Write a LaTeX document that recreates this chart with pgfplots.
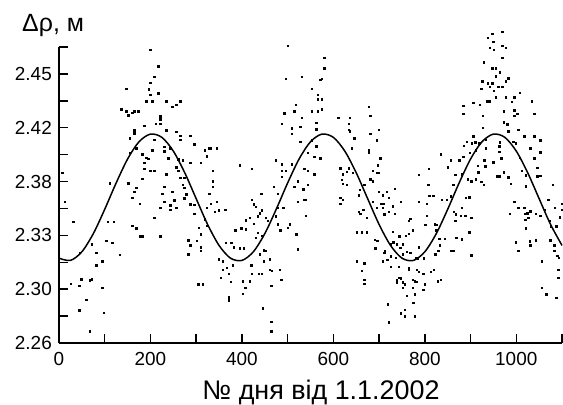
\documentclass[border=0pt]{standalone}
\usepackage{pgfplots}
\pgfplotsset{compat=1.18}
\usepackage{pgfplotstable}
\usepackage{fontspec}
\setmainfont{Liberation Sans}

\pgfplotstableread{
x y
0 2.3199
25 2.3183
50 2.3244
75 2.3372
100 2.3544
125 2.3730
150 2.3899
175 2.4021
200 2.4075
225 2.4052
250 2.3955
275 2.3802
300 2.3619
325 2.3437
350 2.3289
375 2.3199
400 2.3183
425 2.3244
450 2.3372
475 2.3544
500 2.3730
525 2.3899
550 2.4021
575 2.4075
600 2.4052
625 2.3955
650 2.3802
675 2.3619
700 2.3437
725 2.3289
750 2.3199
775 2.3183
800 2.3244
825 2.3372
850 2.3544
875 2.3730
900 2.3899
925 2.4021
950 2.4075
975 2.4052
1000 2.3955
1025 2.3802
1050 2.3619
1075 2.3437
1100 2.3289
}\curvedata

\pgfplotstableread{
x y
199 2.4670
217 2.4556
208 2.4481
199 2.4439
196 2.4392
147 2.4396
217 2.4363
199 2.4352
191 2.4309
204 2.4309
234 2.4309
248 2.4267
256 2.4281
265 2.4309
136 2.4250
147 2.4236
151 2.4208
160 2.4227
164 2.4236
173 2.4236
221 2.4203
221 2.4180
212 2.4149
221 2.4149
186 2.4135
164 2.4102
164 2.4081
234 2.4102
256 2.4093
265 2.4062
265 2.4034
287 2.4062
155 2.4046
208 2.4034
296 2.4003
230 2.3987
243 2.3975
169 2.3975
155 2.3944
204 2.3961
230 2.3956
182 2.3933
191 2.3909
195 2.3902
239 2.3904
261 2.3897
270 2.3890
186 2.3874
287 2.3874
256 2.3843
186 2.3831
199 2.3815
208 2.3815
234 2.3791
261 2.3815
7 2.3801
182 2.3761
265 2.3768
274 2.3768
169 2.3697
111 2.3730
151 2.3730
230 2.3702
270 2.3716
164 2.3669
248 2.3669
274 2.3697
226 2.3655
278 2.3650
160 2.3627
274 2.3622
230 2.3598
252 2.3608
13 2.3598
177 2.3584
221 2.3556
243 2.3572
256 2.3556
287 2.3580
296 2.3575
243 2.3542
296 2.3514
208 2.3485
31 2.3455
107 2.3455
120 2.3455
160 2.3427
169 2.3410
177 2.3354
182 2.3354
221 2.3354
283 2.3325
287 2.3292
103 2.3321
116 2.3309
283 2.3226
72 2.3297
81 2.3238
133 2.3224
45 2.3238
81 2.3151
94 2.3179
26 2.3019
48 2.3050
44 2.3005
67 2.3043
72 2.3050
94 2.2991
59 2.2904
44 2.2831
98 2.2814
67 2.2685
500 2.4698
580 2.4615
580 2.4540
496 2.4467
531 2.4481
571 2.4458
575 2.4467
553 2.4396
566 2.4352
566 2.4321
575 2.4321
518 2.4281
492 2.4222
514 2.4236
553 2.4236
566 2.4236
575 2.4250
531 2.4192
562 2.4156
487 2.4149
509 2.4116
527 2.4126
562 2.4109
509 2.4079
527 2.4022
553 2.4032
562 2.3989
544 2.3944
571 2.3904
558 2.3916
474 2.3890
395 2.3857
421 2.3831
487 2.3862
509 2.3862
487 2.3815
496 2.3815
536 2.3831
544 2.3815
558 2.3791
487 2.3773
470 2.3702
522 2.3744
514 2.3702
534 2.3685
544 2.3716
336 2.3815
336 2.3744
336 2.3702
328 2.3655
319 2.3961
328 2.3975
332 2.3975
345 2.3975
323 2.3919
310 2.3874
345 2.3598
332 2.3584
349 2.3537
363 2.3542
341 2.3528
323 2.3556
319 2.3474
323 2.3427
306 2.3415
310 2.3368
301 2.3321
310 2.3278
310 2.3250
442 2.3655
421 2.3612
426 2.3580
430 2.3561
443 2.3537
439 2.3518
434 2.3495
417 2.3485
408 2.3467
426 2.3443
452 2.3485
456 2.3462
398 2.3410
408 2.3403
385 2.3396
434 2.3379
443 2.3356
430 2.3344
395 2.3269
404 2.3269
377 2.3309
382 2.3278
364 2.3309
448 2.3255
452 2.3250
439 2.3226
461 2.3191
448 2.3179
349 2.3191
358 2.3179
380 2.3151
367 2.3132
358 2.3118
371 2.3090
354 2.3062
376 2.3033
402 2.3038
417 2.3038
420 2.3151
421 2.3090
443 2.3090
437 2.3090
461 2.3118
465 2.3109
483 2.3118
486 2.3048
464 2.3003
407 2.2991
402 2.2949
371 2.2925
371 2.2902
446 2.2845
464 2.2751
464 2.2685
478 2.3655
478 2.3438
484 2.3396
505 2.3438
522 2.3598
536 2.3612
540 2.3612
540 2.3500
519 2.3368
522 2.3262
304 2.3015
314 2.3015
490 2.3556
500 2.3415
474 2.3497
478 2.3556
677 2.4267
680 2.4206
611 2.4192
636 2.4192
633 2.4149
633 2.4107
636 2.4097
699 2.4107
680 2.4079
646 2.4046
695 2.4032
640 2.3975
677 2.3961
677 2.3947
835 2.3933
702 2.3904
857 2.3890
875 2.3890
697 2.3857
615 2.3834
633 2.3834
629 2.3810
642 2.3801
620 2.3791
850 2.3843
809 2.3829
686 2.3815
695 2.3801
699 2.3801
618 2.3754
620 2.3725
629 2.3716
787 2.3787
866 2.3787
680 2.3758
686 2.3744
658 2.3683
667 2.3716
734 2.3688
807 2.3716
862 2.3716
699 2.3669
717 2.3669
655 2.3645
615 2.3627
620 2.3612
615 2.3584
708 2.3645
721 2.3627
810 2.3641
818 2.3641
857 2.3636
686 2.3598
703 2.3584
709 2.3584
747 2.3598
730 2.3565
787 2.3598
804 2.3584
837 2.3612
848 2.3612
665 2.3542
655 2.3528
659 2.3514
695 2.3556
708 2.3556
711 2.3509
721 2.3528
734 2.3514
804 2.3499
863 2.3528
867 2.3509
673 2.3485
768 2.3476
765 2.3462
866 2.3462
801 2.3434
822 2.3438
826 2.3434
651 2.3382
662 2.3382
673 2.3382
730 2.3386
758 2.3358
765 2.3372
774 2.3396
744 2.3354
690 2.3330
696 2.3321
825 2.3396
831 2.3335
843 2.3335
869 2.3344
725 2.3297
731 2.3311
738 2.3297
752 2.3297
746 2.3274
832 2.3292
692 2.3269
712 2.3250
711 2.3236
787 2.3278
829 2.3250
857 2.3250
862 2.3250
718 2.3189
708 2.3179
725 2.3212
736 2.3203
752 2.3226
760 2.3245
768 2.3236
780 2.3203
784 2.3198
797 2.3198
823 2.3226
651 2.3179
667 2.3165
662 2.3109
667 2.3048
667 2.3019
725 2.3137
743 2.3137
765 2.3132
765 2.3118
782 2.3118
787 2.3104
796 2.3090
819 2.3118
813 2.3104
738 2.3043
738 2.3029
743 2.3062
747 2.3057
752 2.3029
756 2.3015
774 2.3048
778 2.3038
782 2.3033
800 2.3015
828 2.3038
835 2.3048
752 2.2991
774 2.2991
796 2.2977
778 2.2944
760 2.2935
775 2.2883
719 2.2873
756 2.2836
747 2.2812
756 2.2789
778 2.2789
721 2.2746
969 2.4799
947 2.4785
938 2.4756
949 2.4728
942 2.4686
951 2.4672
969 2.4700
977 2.4686
969 2.4615
929 2.4582
947 2.4540
955 2.4540
964 2.4511
955 2.4483
982 2.4469
977 2.4450
925 2.4450
938 2.4436
947 2.4436
923 2.4394
942 2.4408
960 2.4408
969 2.4408
951 2.4380
1008 2.4366
955 2.4337
977 2.4337
995 2.4337
990 2.4304
1034 2.4309
936 2.4309
941 2.4309
906 2.4295
920 2.4281
884 2.4276
884 2.4220
973 2.4238
995 2.4243
1002 2.4220
1039 2.4220
927 2.4205
995 2.4205
973 2.4158
980 2.4144
927 2.4121
1004 2.4107
982 2.4097
1017 2.4060
1039 2.4060
906 2.4060
892 2.4022
903 2.4012
910 2.4017
919 2.4012
885 2.3994
933 2.4036
964 2.4017
993 2.4022
999 2.4012
1030 2.3975
1052 2.4031
933 2.3975
963 2.3989
963 2.3951
911 2.3961
898 2.3942
884 2.3914
1008 2.3909
1039 2.3904
1052 2.3947
930 2.3890
949 2.3876
967 2.3904
1046 2.3838
916 2.3852
932 2.3848
916 2.3810
917 2.3805
911 2.3758
894 2.3758
901 2.3744
923 2.3739
929 2.3716
881 2.3791
958 2.3777
964 2.3777
973 2.3805
982 2.3772
988 2.3725
1021 2.3706
1012 2.3815
1021 2.3786
1046 2.3777
1052 2.3782
1080 2.3716
889 2.3626
897 2.3631
881 2.3556
879 2.3499
888 2.3499
901 2.3485
986 2.3513
995 2.3598
1004 2.3556
1017 2.3556
1018 2.3513
1024 2.3518
1030 2.3532
1026 2.3485
1020 2.3471
1043 2.3513
1052 2.3499
1062 2.3542
1070 2.3612
1084 2.3556
1099 2.3584
1100 2.3542
1095 2.3490
1073 2.3462
1075 2.3424
1087 2.3424
1021 2.3410
897 2.3382
999 2.3311
1004 2.3250
1029 2.3320
1030 2.3292
1043 2.3325
1074 2.3325
1083 2.3292
1083 2.3250
1089 2.3217
1093 2.3203
901 2.3221
1056 2.3179
1092 2.3118
1092 2.3061
1056 2.2991
1065 2.2944
1087 2.2920
881 2.3334
}\scatterdata

\begin{document}
\begin{tikzpicture}
\begin{axis}[
  at={(0,0)}, anchor=south west,
  scale only axis, width=503bp, height=296bp,
  xmin=0, xmax=1100, ymin=2.26, ymax=2.469,
  axis x line=bottom, axis y line=left,
  axis line style={-, line width=1.6bp, black},
  tick align=inside,
  major tick length=9bp, minor tick length=9bp,
  every tick/.style={black, line width=1.4bp},
  xtick={0,200,...,1000}, minor xtick={100,300,...,1100},
  ytick={2.26,2.298,2.336,2.374,2.412,2.45},
  yticklabels={2.26,2.30,2.33,2.38,2.42,2.45},
  minor ytick={2.279,2.317,2.355,2.393,2.431,2.469},
  /pgf/number format/assume math mode=true,
  /pgf/number format/1000 sep={},
  xticklabel style={font=\fontsize{19}{19}\selectfont, inner sep=0pt, yshift=-9.5bp},
  yticklabel style={font=\fontsize{19}{19}\selectfont, inner sep=0pt, xshift=-7bp},
  clip=false,
]
\addplot[only marks, mark=square*, mark size=0.75bp, black] table[x=x, y=y] {\scatterdata};
\addplot[black, line width=1.5bp, smooth] table[x=x, y=y] {\curvedata};
\end{axis}
\node[anchor=base, font=\fontsize{27}{27}\selectfont, inner sep=0pt] at (262bp,-56bp) {№ дня від 1.1.2002};
\node[anchor=base west, font=\fontsize{25}{25}\selectfont, inner sep=0pt] at (-37bp,311bp) {Δρ, м};
\pgfresetboundingbox
\path (-59bp,-62bp) rectangle (504bp,343bp);
\end{tikzpicture}
\end{document}
